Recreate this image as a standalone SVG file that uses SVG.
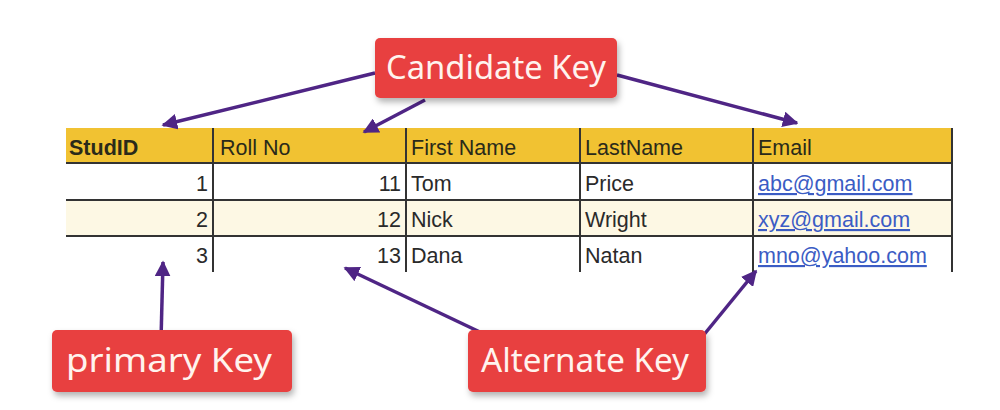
<svg xmlns="http://www.w3.org/2000/svg" width="1000" height="410" viewBox="0 0 1000 410">
<defs>
<style>
.cell{font-family:"Liberation Sans",Arial,sans-serif;font-size:21.5px;fill:#2a2a2a}
.hdr{font-family:"Liberation Sans",Arial,sans-serif;font-size:21.5px;fill:#2a2a1a}
.num{text-anchor:end}
.link{fill:#3b5cc4;text-decoration:underline}
.grid{stroke:#333;stroke-width:2}
.lbl{font-family:"Noto Sans","DejaVu Sans",sans-serif;font-size:32px;fill:#fff3ee}
.box{fill:#e8413f}
.arr{stroke:#4f2585;stroke-width:3.5;fill:none;marker-end:url(#ah)}
</style>
<marker id="ah" viewBox="0 0 10 10" refX="9" refY="5" markerWidth="4.5" markerHeight="4.5" orient="auto" markerUnits="strokeWidth">
<path d="M0,0 L10,5 L0,10 z" fill="#4f2585"/>
</marker>
<filter id="sh" x="-10%" y="-20%" width="125%" height="150%">
<feDropShadow dx="2" dy="4" stdDeviation="3" flood-color="#000" flood-opacity="0.3"/>
</filter>
</defs>
<rect width="1000" height="410" fill="#fff"/>

<g id="table">
<rect x="66" y="128" width="887" height="35" fill="#f1c232"/>
<rect x="66" y="200" width="887" height="36" fill="#fdf8e4"/>
<line class="grid" x1="66" y1="163" x2="953" y2="163"/>
<line class="grid" x1="66" y1="200" x2="953" y2="200"/>
<line class="grid" x1="66" y1="236" x2="953" y2="236"/>
<line class="grid" x1="213" y1="128" x2="213" y2="272"/>
<line class="grid" x1="406" y1="128" x2="406" y2="272"/>
<line class="grid" x1="580" y1="128" x2="580" y2="272"/>
<line class="grid" x1="753" y1="128" x2="753" y2="272"/>
<line class="grid" x1="952" y1="128" x2="952" y2="272"/>
<text class="hdr" x="69" y="155" font-weight="bold">StudID</text>
<text class="hdr" x="220" y="155">Roll No</text>
<text class="hdr" x="411" y="155">First Name</text>
<text class="hdr" x="585" y="155">LastName</text>
<text class="hdr" x="758" y="155">Email</text>
<text class="cell num" x="208" y="191">1</text>
<text class="cell num" x="401" y="191">11</text>
<text class="cell" x="411" y="191">Tom</text>
<text class="cell" x="585" y="191">Price</text>
<text class="cell link" x="758" y="191">abc@gmail.com</text>
<text class="cell num" x="208" y="227">2</text>
<text class="cell num" x="401" y="227">12</text>
<text class="cell" x="411" y="227">Nick</text>
<text class="cell" x="585" y="227">Wright</text>
<text class="cell link" x="758" y="227">xyz@gmail.com</text>
<text class="cell num" x="208" y="263">3</text>
<text class="cell num" x="401" y="263">13</text>
<text class="cell" x="411" y="263">Dana</text>
<text class="cell" x="585" y="263">Natan</text>
<text class="cell link" x="758" y="263">mno@yahoo.com</text>
</g>

<g id="connectors">
<line class="arr" x1="375" y1="73" x2="163" y2="125"/>
<line class="arr" x1="425" y1="100" x2="364" y2="132"/>
<line class="arr" x1="617" y1="75" x2="797" y2="123"/>
<line class="arr" x1="161" y1="340" x2="163" y2="262"/>
<line class="arr" x1="482" y1="333" x2="345" y2="268"/>
<line class="arr" x1="698" y1="342" x2="756" y2="271"/>
</g>

<g id="candidate-key">
<rect class="box" x="375" y="38" width="242" height="60" rx="5" filter="url(#sh)"/>
<text class="lbl" x="386" y="79" textLength="220" lengthAdjust="spacingAndGlyphs">Candidate Key</text>
</g>
<g id="primary-key">
<rect class="box" x="52" y="330" width="240" height="62" rx="5" filter="url(#sh)"/>
<text class="lbl" x="66" y="372" textLength="206" lengthAdjust="spacingAndGlyphs">primary Key</text>
</g>
<g id="alternate-key">
<rect class="box" x="468" y="330" width="238" height="62" rx="5" filter="url(#sh)"/>
<text class="lbl" x="481" y="372" textLength="208" lengthAdjust="spacingAndGlyphs">Alternate Key</text>
</g>
</svg>
